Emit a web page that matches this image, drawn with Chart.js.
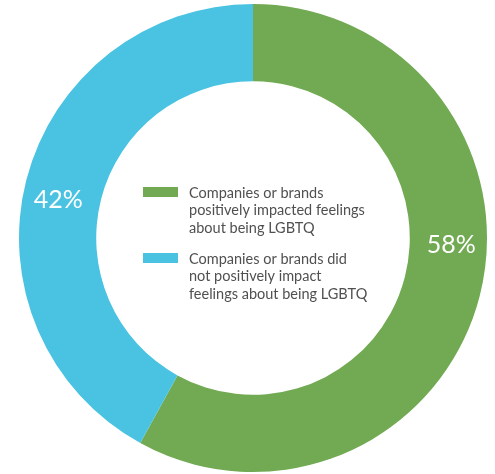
<!DOCTYPE html>
<html lang="en">
<head>
    <meta charset="UTF-8">
    <title>LGBTQ brand impact</title>
    <style>
        html, body { margin: 0; padding: 0; background: #ffffff; }
    </style>
</head>
<body>

    <canvas id="myChart" width="495" height="474"></canvas>

    <script src="https://cdn.jsdelivr.net/npm/chart.js"></script>

    <script>
        // survey split, in percent
        const categories = [
            ['Companies or brands', 'positively impacted feelings', 'about being LGBTQ'],
            ['Companies or brands did', 'not positively impact', 'feelings about being LGBTQ']
        ]
        const shares = [58, 42]
        const colors = ['#71aa52', '#4ac3e3']

        // percentage text on each ring segment
        const sliceLabels = {
            id: 'sliceLabels',
            afterDatasetsDraw(chart) {
                const ctx = chart.ctx
                const arcs = chart.getDatasetMeta(0).data
                // angle (from 12 o'clock, clockwise) where each label sits
                const angles = [92, 281]
                ctx.save()
                ctx.fillStyle = '#ffffff'
                ctx.font = '25px Lato'
                ctx.textAlign = 'center'
                ctx.textBaseline = 'middle'
                arcs.forEach((arc, i) => {
                    const r = (arc.innerRadius + arc.outerRadius) / 2 + 3
                    const a = angles[i] * Math.PI / 180
                    ctx.fillText(shares[i] + '%', arc.x + Math.sin(a) * r, arc.y - Math.cos(a) * r)
                })
                ctx.restore()
            }
        }

        // legend drawn inside the hole
        const centerLegend = {
            id: 'centerLegend',
            afterDraw(chart) {
                const ctx = chart.ctx
                const arc = chart.getDatasetMeta(0).data[0]
                const left = arc.x - 110
                const lineH = 17.5
                const tops = [arc.y - 46, arc.y + 20]
                ctx.save()
                ctx.font = '14.5px Lato'
                ctx.textBaseline = 'middle'
                categories.forEach((lines, i) => {
                    ctx.fillStyle = colors[i]
                    ctx.fillRect(left, tops[i] - 5, 35, 10)
                    ctx.fillStyle = '#505050'
                    lines.forEach((line, j) => {
                        ctx.fillText(line, left + 46, tops[i] + 1 + j * lineH)
                    })
                })
                ctx.restore()
            }
        }

        const ctx = document.getElementById('myChart')
        const myChart = new Chart(ctx, {
            type: 'doughnut',
            data: {
                labels: categories,
                datasets: [{
                    data: shares,
                    backgroundColor: colors,
                    borderWidth: 0
                }]
            },
            options: {
                responsive: false,
                animation: false,
                cutout: '67%',
                layout: {
                    padding: { left: 11, right: 0, top: 4, bottom: 2 }
                },
                plugins: {
                    legend: { display: false },
                    tooltip: { enabled: false }
                },
                events: []
            },
            plugins: [sliceLabels, centerLegend]
        })
    </script>
</body>
</html>
